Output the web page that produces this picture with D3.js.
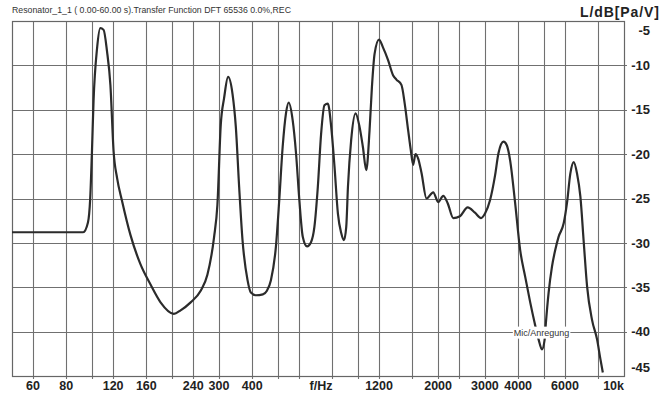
<!DOCTYPE html>
<html>
<head>
<meta charset="utf-8">
<script src="https://cdn.jsdelivr.net/npm/d3@7"></script>
<style>
  body { margin: 0; background: #fff; }
  text { font-family: Arial, "Liberation Sans", sans-serif; }
</style>
</head>
<body>
<div id="chart-area"></div>
<script>
// transfer function
const freqHz = [50, 92.6, 96.5, 98.4, 99.9, 101.3, 104.4, 107.4, 110.5, 113.8, 117.2, 120.5, 124.2,
  129.7, 139.4, 152.0, 165.9, 180.9, 203.0, 215.2, 234.8, 256.1, 271.4, 287.4, 296.0, 304.7,
  313.6, 324.6, 337.3, 347.1, 357.3, 367.9, 384.2, 395.4, 412.8, 438.8, 454.4, 470.4, 491.3,
  505.6, 520.7, 535.9, 548.7, 568.0, 584.6, 601.7, 619.7, 643.3, 666.0, 685.4, 706.0, 726.5,
  747.7, 770.1, 792.6, 815.7, 840.1, 864.5, 885.0, 903.0, 916.4, 942.4, 978.8, 1013, 1043,
  1074, 1105, 1128, 1154, 1199, 1242, 1297, 1354, 1394, 1456, 1498, 1543, 1578, 1612, 1644,
  1683, 1732, 1809, 1917, 2002, 2091, 2171, 2281, 2416, 2584, 2752, 2900, 3002, 3135, 3275,
  3373, 3523, 3625, 3731, 3896, 4069, 4250, 4440, 4612, 4775, 4914, 5030, 5086, 5207, 5359,
  5514, 5679, 5932, 6105, 6283, 6472, 6660, 6855, 7060, 7264, 7586, 7923, 8153, 8325];
const levelDb = [-28.8, -28.8, -27.7, -25.0, -19.7, -14.0, -8.1, -5.8, -6.0, -8.4, -12.2, -19.7, -22.7,
  -25.3, -29.1, -32.4, -34.7, -36.7, -38.0, -37.6, -36.7, -35.4, -33.6, -29.4, -25.7, -16.7,
  -13.7, -11.3, -13.2, -16.9, -23.7, -29.7, -34.2, -35.6, -35.9, -35.8, -35.4, -34.2, -30.4,
  -25.2, -19.2, -15.4, -14.2, -16.2, -19.9, -25.2, -29.3, -30.4, -29.9, -28.2, -23.7, -17.7,
  -14.5, -14.3, -16.9, -21.4, -26.7, -28.9, -29.7, -28.2, -23.7, -18.4, -15.4, -16.9, -19.2,
  -21.8, -17.3, -12.4, -8.7, -7.1, -8.0, -9.4, -11.1, -11.6, -12.2, -14.3, -17.3, -19.5, -21.2,
  -20.0, -20.5, -22.1, -25.0, -24.3, -25.4, -24.7, -25.5, -27.2, -27.0, -26.0, -26.6, -27.2,
  -26.7, -25.2, -22.4, -19.9, -18.6, -19.0, -20.7, -25.5, -30.8, -33.8, -36.7, -39.0, -40.9,
  -42.0, -40.9, -39.0, -35.6, -32.7, -30.8, -29.3, -27.8, -25.5, -22.2, -20.9, -22.2, -24.8,
  -30.0, -34.9, -38.7, -40.9, -43.1, -44.6];

const gridHz = [60, 80, 100, 120, 160, 200, 240, 300, 400, 500, 600, 800, 1000, 1200, 1600, 2000,
  2400, 3000, 4000, 5000, 6000, 8000];
const xTickHz = [60, 80, 120, 160, 240, 300, 400, 1200, 2000, 3000, 4000, 6000, 10000];
const xTickText = ["60", "80", "120", "160", "240", "300", "400", "1200", "2000", "3000", "4000", "6000", "10k"];
const yTicks = [-5, -10, -15, -20, -25, -30, -35, -40, -45];

const titleText = "Resonator_1_1 ( 0.00-60.00 s).Transfer Function DFT 65536 0.0%,REC";
const unitText = "L/dB[Pa/V]";
const markerText = "Mic/Anregung";
const markerHz = 4900, markerDb = -40;

const WIDTH = 664, HEIGHT = 394;
const PLOT = { LEFT: 12, RIGHT: 624, TOP: 21, BOTTOM: 376 };

const svg = d3.select("#chart-area")
  .append("svg")
    .attr("width", WIDTH)
    .attr("height", HEIGHT);

const x = d3.scaleLog().domain([50, 10000]).range([PLOT.LEFT, PLOT.RIGHT]);
const y = d3.scaleLinear().domain([-5, -45]).range([PLOT.TOP, PLOT.BOTTOM]);

// grid
svg.append("g")
  .selectAll("line")
  .data(gridHz)
  .join("line")
    .attr("x1", d => Math.round(x(d)) + 0.5)
    .attr("x2", d => Math.round(x(d)) + 0.5)
    .attr("y1", PLOT.TOP)
    .attr("y2", PLOT.BOTTOM + 3)
    .attr("stroke", "#707070")
    .attr("stroke-width", 1.1);

svg.append("g")
  .selectAll("line")
  .data(yTicks.slice(1, -1))
  .join("line")
    .attr("x1", PLOT.LEFT)
    .attr("x2", PLOT.RIGHT + 3)
    .attr("y1", d => Math.round(y(d)) + 0.5)
    .attr("y2", d => Math.round(y(d)) + 0.5)
    .attr("stroke", "#707070")
    .attr("stroke-width", 1.1);

// frame
svg.append("rect")
  .attr("x", PLOT.LEFT + 0.5)
  .attr("y", PLOT.TOP + 0.5)
  .attr("width", PLOT.RIGHT - PLOT.LEFT)
  .attr("height", PLOT.BOTTOM - PLOT.TOP)
  .attr("fill", "none")
  .attr("stroke", "#666")
  .attr("stroke-width", 1.2);

// curve
const line = d3.line()
  .x((d, i) => x(freqHz[i]))
  .y(d => y(d))
  .curve(d3.curveMonotoneX);

svg.append("path")
  .datum(levelDb)
  .attr("d", line)
  .attr("fill", "none")
  .attr("stroke", "#2b2b2b")
  .attr("stroke-width", 2.2)
  .attr("stroke-linejoin", "round");

// marker label covers the curve
const marker = svg.append("g")
  .attr("transform", `translate(${x(markerHz)}, ${y(markerDb) + 1})`);
const markerLabel = marker.append("text")
  .attr("text-anchor", "middle")
  .attr("dy", "0.35em")
  .attr("font-size", "9px")
  .attr("fill", "#333")
  .text(markerText);
const bb = markerLabel.node().getBBox();
marker.insert("rect", "text")
  .attr("x", bb.x - 1)
  .attr("y", -6)
  .attr("width", bb.width + 2)
  .attr("height", 12)
  .attr("fill", "#fff");

// x labels
svg.append("g")
  .selectAll("text")
  .data(xTickHz)
  .join("text")
    .attr("x", d => x(d))
    .attr("y", 390)
    .attr("text-anchor", (d, i) => i === xTickHz.length - 1 ? "end" : "middle")
    .attr("font-size", "12.5px")
    .attr("font-weight", "bold")
    .attr("fill", "#222")
    .text((d, i) => xTickText[i]);

svg.append("text")
  .attr("x", x(726))
  .attr("y", 390)
  .attr("text-anchor", "middle")
  .attr("font-size", "12.5px")
  .attr("font-weight", "bold")
  .attr("fill", "#222")
  .text("f/Hz");

// y labels, the end ones pulled inside
svg.append("g")
  .selectAll("text")
  .data(yTicks)
  .join("text")
    .attr("x", 650)
    .attr("y", d => y(d) + (d === -5 ? 9 : d === -45 ? -9 : 0))
    .attr("dy", "0.36em")
    .attr("text-anchor", "end")
    .attr("font-size", "13px")
    .attr("font-weight", "bold")
    .attr("fill", "#222")
    .text(d => d);

svg.append("text")
  .attr("x", 580)
  .attr("y", 17)
  .attr("font-size", "14px")
  .attr("font-weight", "bold")
  .attr("letter-spacing", "0.9px")
  .attr("fill", "#222")
  .text(unitText);

svg.append("text")
  .attr("x", 12)
  .attr("y", 13)
  .attr("font-size", "9px")
  .attr("textLength", 279)
  .attr("lengthAdjust", "spacingAndGlyphs")
  .attr("fill", "#333")
  .text(titleText);
</script>
</body>
</html>
